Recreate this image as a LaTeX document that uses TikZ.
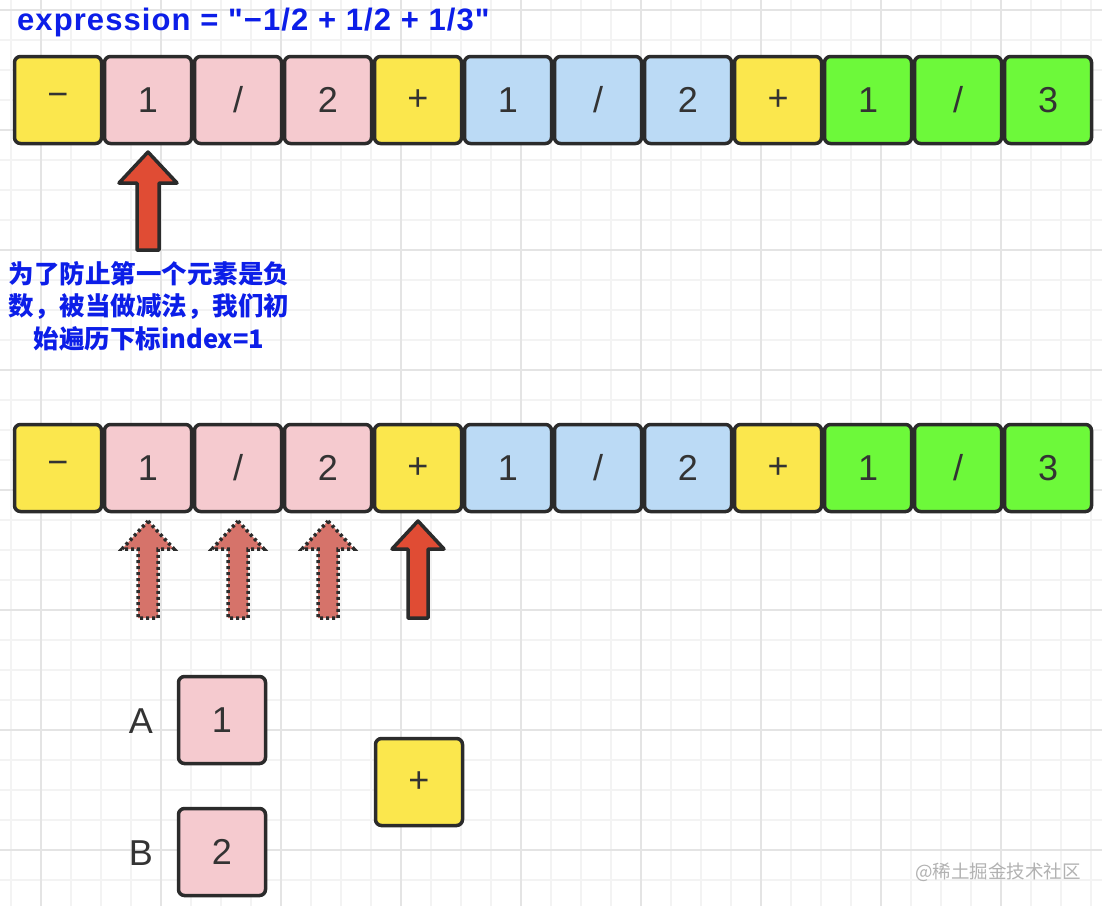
\documentclass[tikz,border=0pt]{standalone}
\usepackage{fontspec}
\setmainfont{Liberation Sans}
\newfontfamily\tfont{Liberation Sans}[LetterSpace=3.5]
\newfontfamily\cjk{Noto Sans CJK SC}
\newcommand\slashtxt{/}
\definecolor{cyel}{RGB}{251,231,77}
\definecolor{cpink}{RGB}{245,202,207}
\definecolor{cblue}{RGB}{187,218,245}
\definecolor{cgreen}{RGB}{109,249,58}
\definecolor{cred}{RGB}{224,76,52}
\definecolor{cdot}{RGB}{214,115,106}
\definecolor{tblue}{RGB}{12,30,232}
\definecolor{edge}{RGB}{43,43,43}
\definecolor{gminor}{RGB}{243,243,243}
\definecolor{gmajor}{RGB}{228,228,228}
\begin{document}
\begin{tikzpicture}[x=1pt,y=-1pt,
  minorline/.style={gminor,line width=1.5pt},
  majorline/.style={gmajor,line width=2pt},
  cell/.style={draw=edge,line width=3.5pt,rounded corners=6pt,minimum size=87pt,inner sep=0pt,
    text=black!80,font=\fontsize{36}{36}\selectfont},
  lbl/.style={text=black!80,font=\fontsize{36}{36}\selectfont},
  solidarr/.style={fill=cred,draw=edge,line width=3.5pt,line join=round},
  dotarr/.style={fill=cdot,draw=edge,line width=3.5pt,dash pattern=on 3pt off 3pt},
  bigup/.pic={\path[pic actions] (0,0) -- (29,31) -- (11,31) -- (11,98) -- (-11,98) -- (-11,31) -- (-29,31) -- cycle;},
  smallup/.pic={\path[pic actions] (0,0) -- (26,28) -- (10,28) -- (10,97) -- (-10,97) -- (-10,28) -- (-26,28) -- cycle;}
]
\useasboundingbox (0,0) rectangle (1102,906);
\fill[white] (0,0) rectangle (1102,906);
% grid
\foreach \x in {11,41,...,1101} \draw[minorline] (\x,0) -- (\x,906);
\foreach \y in {10,40,...,900} \draw[minorline] (0,\y) -- (1102,\y);
\foreach \x in {41,161,...,1001} \draw[majorline] (\x,0) -- (\x,906);
\foreach \y in {10,130,...,850} \draw[majorline] (0,\y) -- (1102,\y);
% title
\node[anchor=base west,inner sep=0pt,text=tblue,font=\tfont\bfseries\fontsize{31}{31}\selectfont] (title) at (17,30)
  {expression = "−1/2 + 1/2 + 1/3"};
% rows
\foreach \s/\c [count=\i from 0] in {−/cyel,1/cpink,\slashtxt/cpink,2/cpink,+/cyel,1/cblue,\slashtxt/cblue,2/cblue,+/cyel,1/cgreen,\slashtxt/cgreen,3/cgreen}{
  \node[cell,fill=\c] (a\i) at (58+90*\i,100) {\s};
  \node[cell,fill=\c] (b\i) at (58+90*\i,468) {\s};
}
% top arrow
\pic[solidarr] at (148,152) {bigup};
\node[align=center,text=tblue,font=\cjk\bfseries\fontsize{25.5}{32.5}\selectfont,inner sep=0pt] (note) at (149,306)
  {为了防止第一个元素是负\\数，被当做减法，我们初\\始遍历下标index=1};
% second row arrows
\pic[dotarr] at (148,521) {smallup};
\pic[dotarr] at (238,521) {smallup};
\pic[dotarr] at (328,521) {smallup};
\pic[solidarr] at (418,521) {smallup};
% A B and plus
\node[cell,fill=cpink] (ca) at (222,720) {1};
\node[cell,fill=cpink] (cb) at (222,852) {2};
\node[cell,fill=cyel] (cp) at (419,782) {+};
\node[lbl] (la) at (141,721) {A};
\node[lbl] (lb) at (141,853) {B};
% watermark
\node[text=black!30,font=\cjk\fontsize{18.5}{18.5}\selectfont,inner sep=0pt] (wm) at (998,872) {@稀土掘金技术社区};
\end{tikzpicture}
\end{document}
